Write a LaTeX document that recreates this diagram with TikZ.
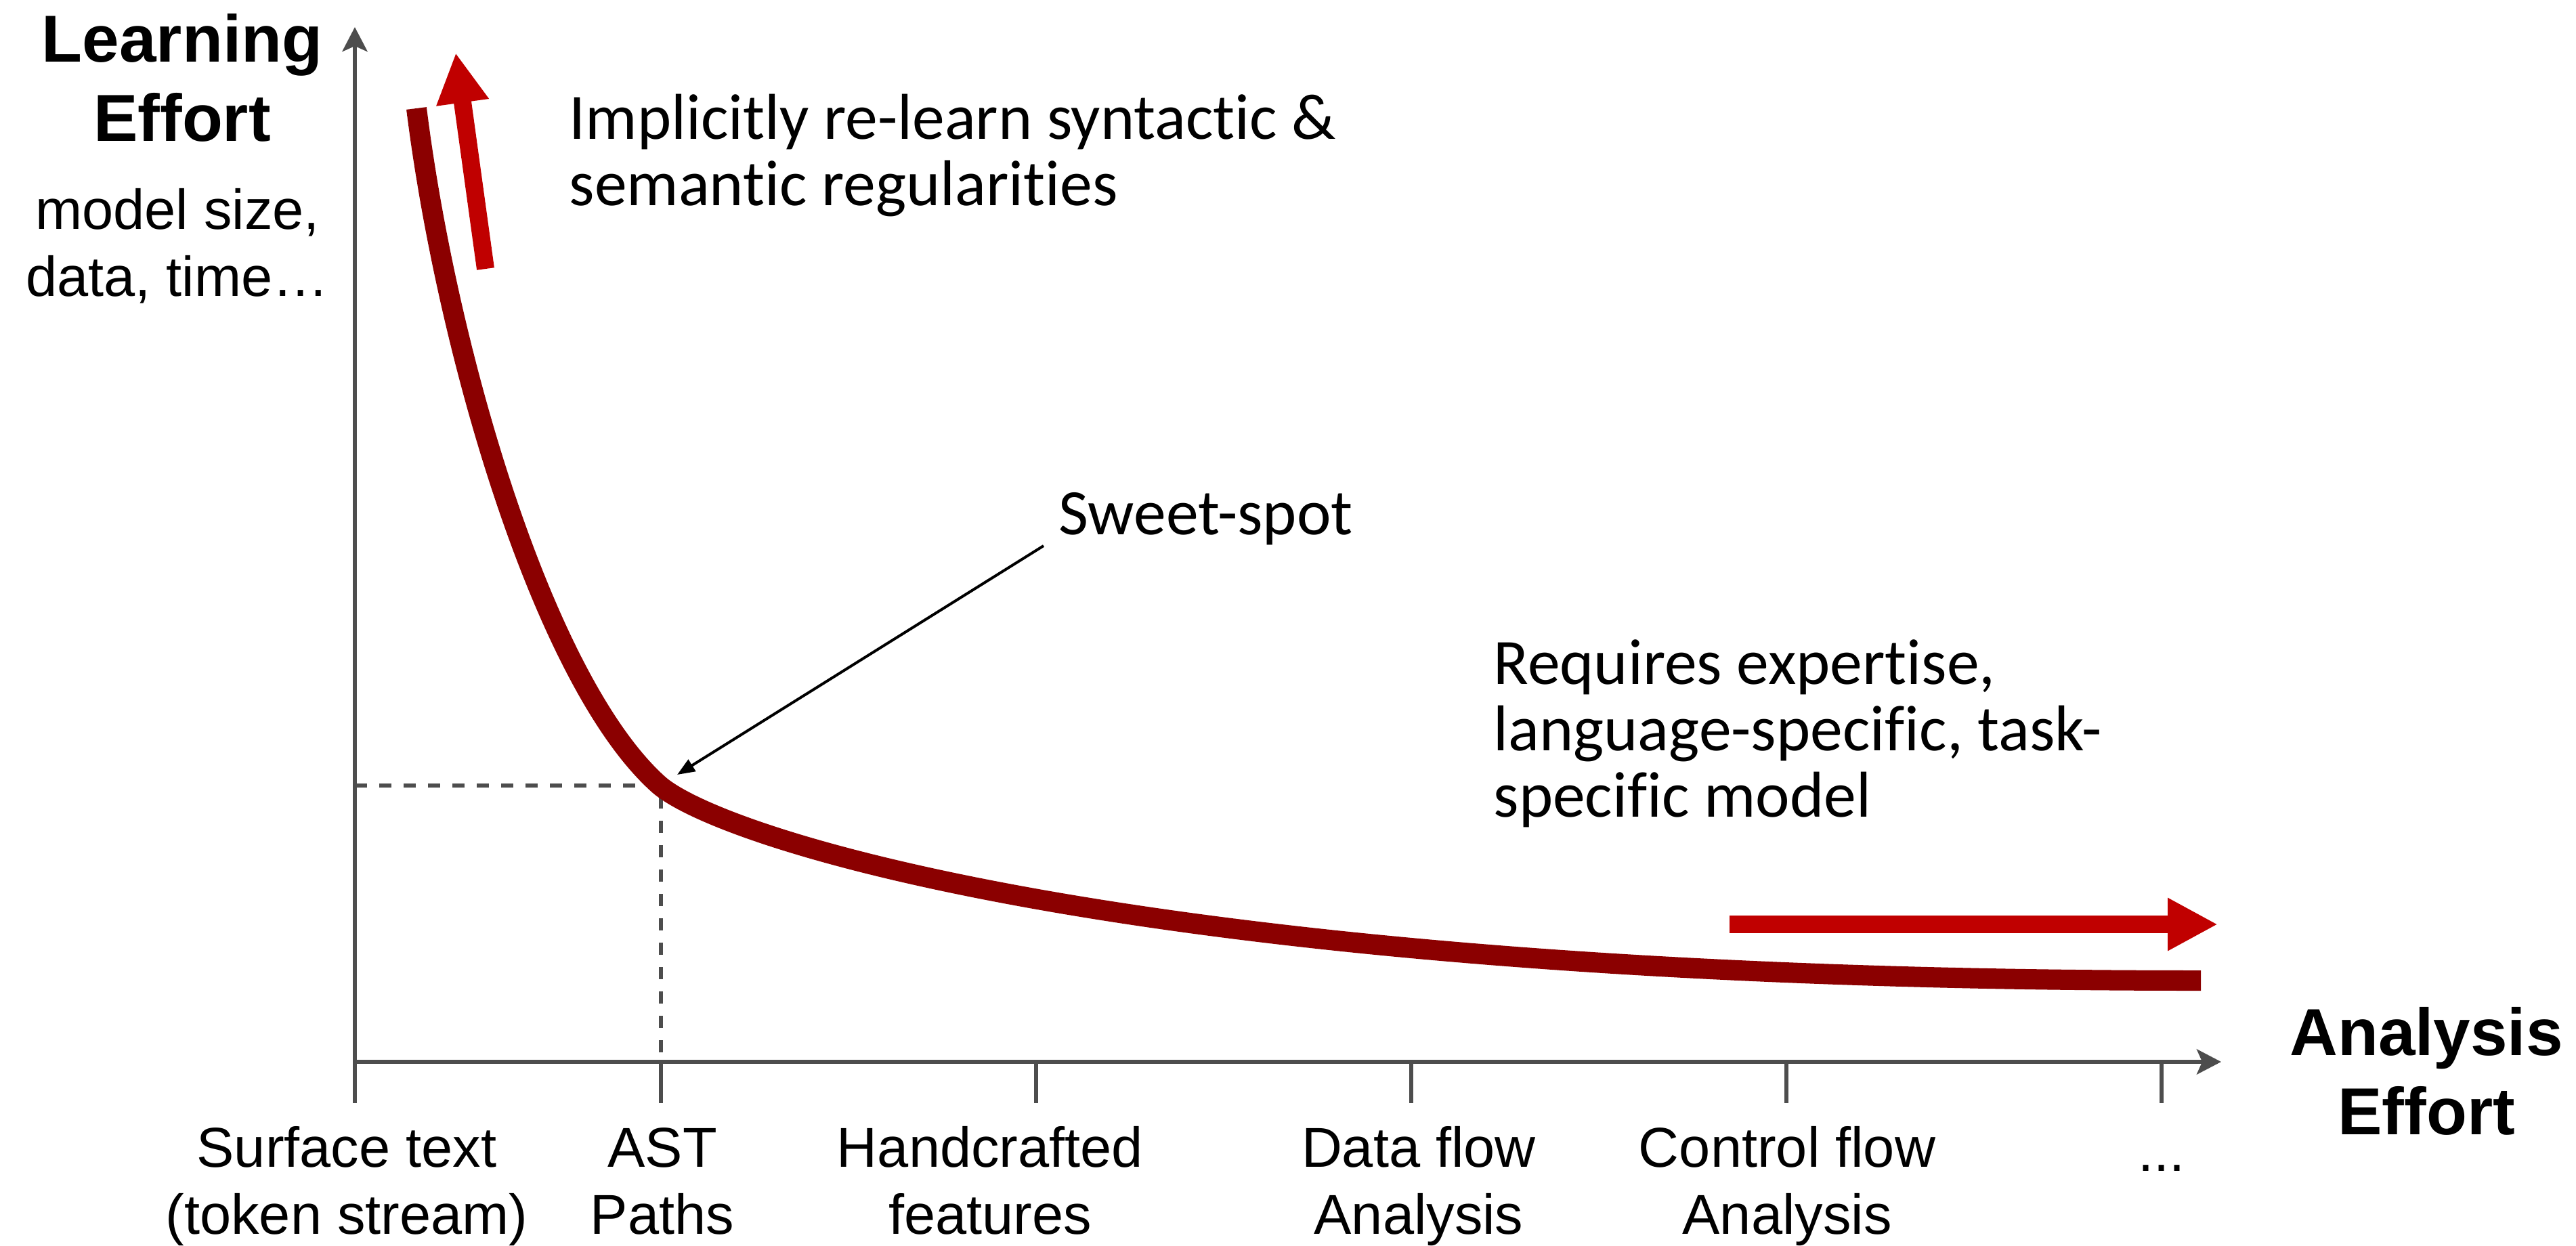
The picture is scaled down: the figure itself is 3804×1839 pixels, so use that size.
\documentclass[tikz,border=0pt]{standalone}
\usepackage{fontspec}
\setmainfont{Liberation Sans}
\newfontfamily\notefont{Carlito}[Ligatures=NoCommon]
\usetikzlibrary{arrows.meta}
\definecolor{axisgray}{HTML}{4D4D4D}
\definecolor{curvered}{HTML}{8B0000}
\definecolor{arrowred}{HTML}{C00000}
\newcommand{\stack}[2][c]{\begin{tabular}[t]{@{}#1@{}}#2\end{tabular}}
\begin{document}
\begin{tikzpicture}[x=0.01cm,y=-0.01cm,
  axisline/.style={draw=axisgray,line width=0.06cm,-{Stealth[length=0.36cm,width=0.37cm,inset=0.08cm]}},
  tickmark/.style={draw=axisgray,line width=0.065cm},
  guide/.style={draw=axisgray,line width=0.055cm,dash pattern=on 0.18cm off 0.18cm},
  effort/.style={draw=curvered,line width=0.3cm},
  trend/.style={draw=arrowred,line width=0.26cm,-{Triangle[length=0.74cm,width=0.73cm]}},
  pointer/.style={draw=black,line width=0.04cm,-{Triangle[length=0.26cm,width=0.2cm]}},
  ticklabel/.style={anchor=base,inner sep=0pt,font=\fontsize{23.6pt}{28.2pt}\selectfont},
  axistitle/.style={anchor=base,inner sep=0pt,font=\fontsize{27.9pt}{33.3pt}\selectfont\bfseries},
  note/.style={anchor=base west,inner sep=0pt,font=\notefont\fontsize{27.2pt}{27.9pt}\selectfont},
]
\useasboundingbox (0,0) rectangle (3804,1839);

% axes
\coordinate (O) at (524,1568);
\coordinate (ytip) at (524,40);
\coordinate (xtip) at (3280,1568);

% guide lines to the sweet spot
\coordinate (gleft) at (524,1160);
\coordinate (sweet) at (976,1160);
\coordinate (gfoot) at (976,1568);
\draw[guide] (gleft) -- (sweet) -- (gfoot);

\draw[axisline] (O) -- (ytip);
\draw[axisline] (O) -- (xtip);
\foreach \x/\n in {524/a,976/b,1530/c,2084/d,2638/e,3192/f}{
  \coordinate (t\n) at (\x,1568);
  \coordinate (tb\n) at (\x,1629);
  \draw[tickmark] (t\n) -- (tb\n);
}

% tick labels
\node[ticklabel] (lsurf) at (512,1723) {\stack{Surface text\\(token stream)}};
\node[ticklabel] (last)  at (978,1723) {\stack{AST\\Paths}};
\node[ticklabel] (lhand) at (1462,1723) {\stack{Handcrafted\\features}};
\node[ticklabel] (ldata) at (2095,1723) {\stack{Data flow\\Analysis}};
\node[ticklabel] (lctrl) at (2639,1723) {\stack{Control flow\\Analysis}};
\node[ticklabel] (lmore) at (3192,1729) {...};

% axis titles
\node[axistitle] (ytitle) at (269,91) {\stack{Learning\\Effort}};
\node[ticklabel] (ynote) at (262,338) {\stack{model size,\\data, time…}};
\node[axistitle] (xtitle) at (3583,1558) {\stack{Analysis\\Effort}};

% effort curve: steep descent, knee at the sweet spot, long flat tail
\coordinate (cstart) at (615,160);
\coordinate (cknee) at (972,1158);
\coordinate (cend) at (3250,1448);
\draw[effort] (cstart) .. controls (660,520) and (802,1005) .. (cknee)
  .. controls (1062,1239) and (1700,1448) .. (cend);

% trend arrows
\coordinate (upS) at (717,397);
\coordinate (upE) at (673,78);
\draw[trend] (upS) -- (upE);
\coordinate (rS) at (2554,1365);
\coordinate (rE) at (3275,1365);
\draw[trend] (rS) -- (rE);

% annotations
\node[note] (relearn) at (840,205) {\stack[l]{Implicitly re-learn syntactic \&\\semantic regularities}};
\node[note] (sweetlbl) at (1563,789) {Sweet-spot};
\node[note] (expert) at (2205,1010) {\stack[l]{Requires expertise,\\language-specific, task-\\specific model}};

\coordinate (ptail) at (1541,806);
\coordinate (phead) at (1000,1144);
\draw[pointer] (ptail) -- (phead);
\end{tikzpicture}
\end{document}
